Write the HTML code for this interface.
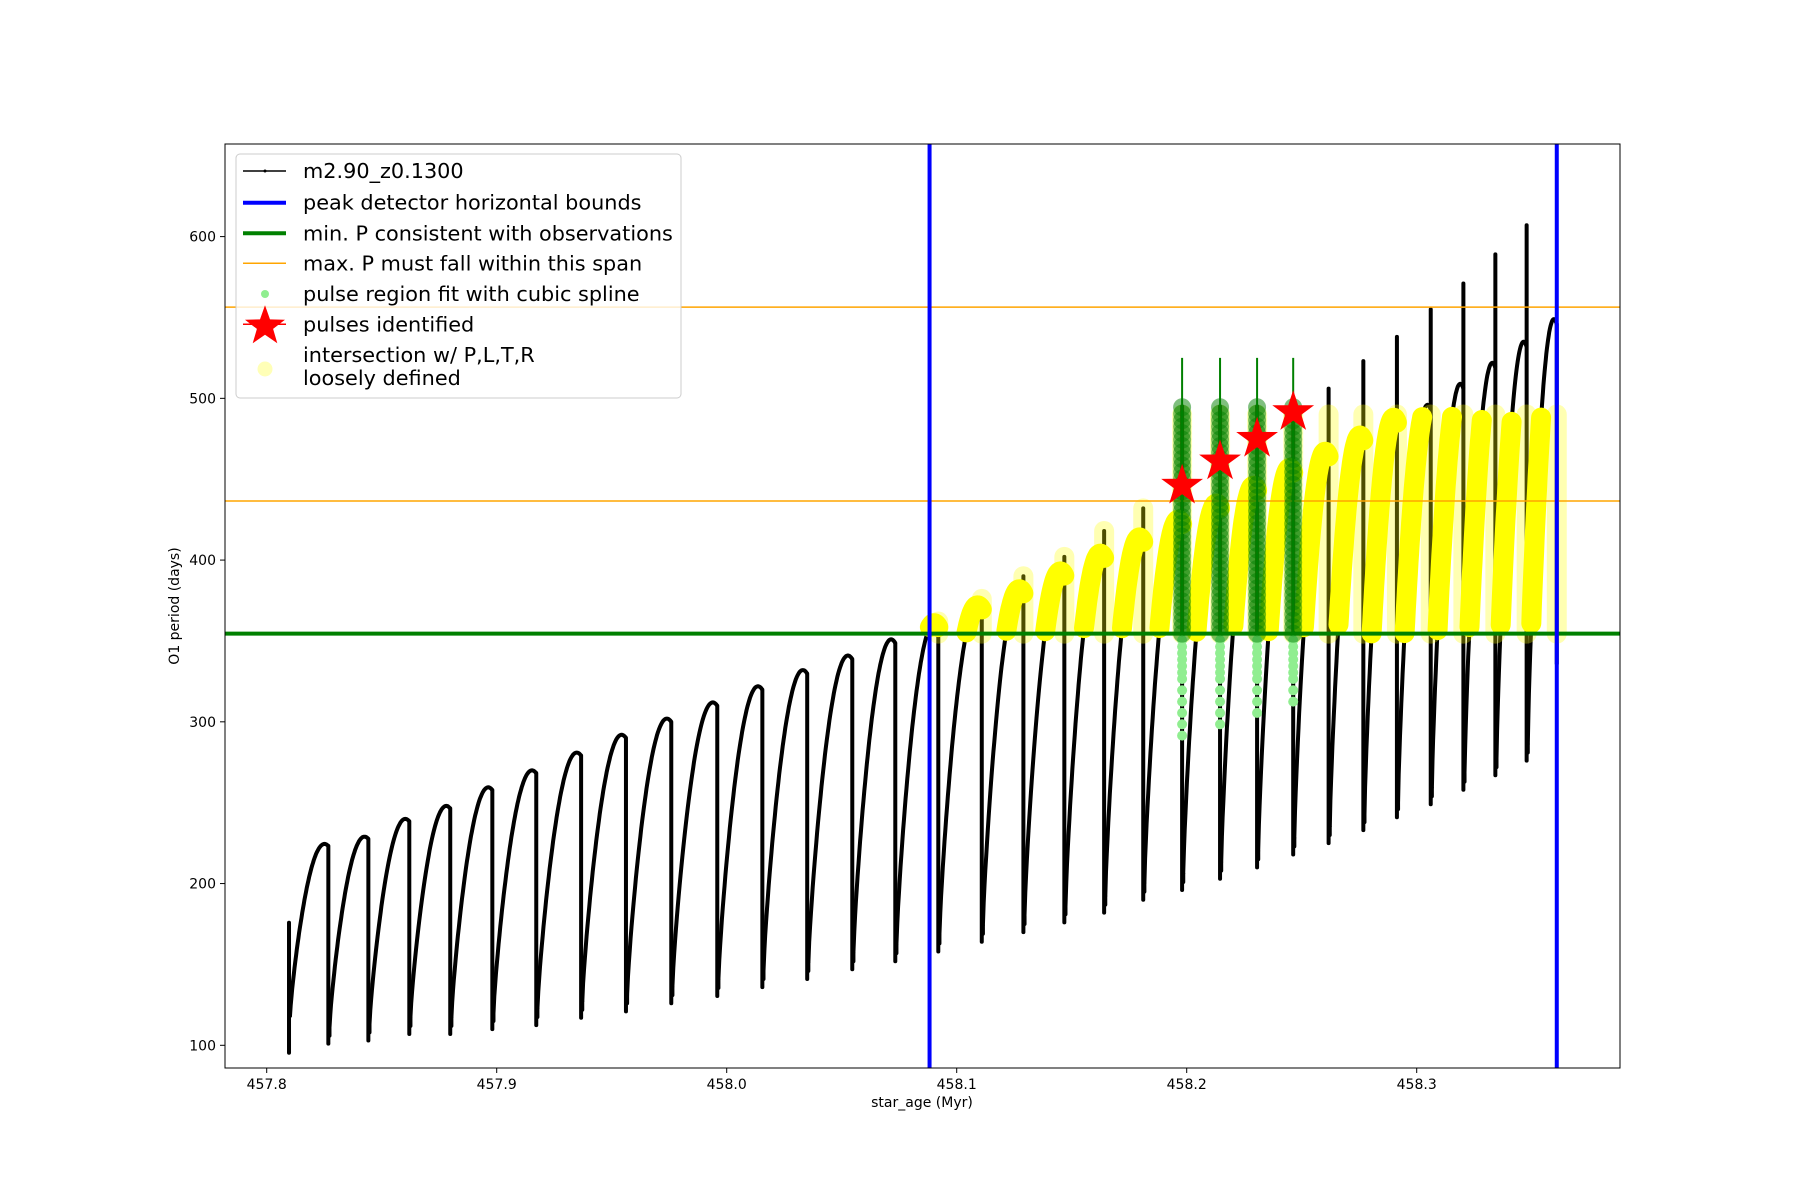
<!DOCTYPE html>
<html><head><meta charset="utf-8"><style>
html,body{margin:0;padding:0;background:#fff;}
svg{display:block;font-family:"DejaVu Sans","Liberation Sans",sans-serif;}
</style></head><body>
<svg id="chart" width="1800" height="1200" viewBox="0 0 1800 1200" xmlns="http://www.w3.org/2000/svg">
<rect x="0" y="0" width="1800" height="1200" fill="#fff"/>
<g id="plot"></g>
<rect x="225" y="144" width="1395" height="924" fill="none" stroke="#000" stroke-width="1"/>
<g id="ticks"></g>
<text x="922" y="1107" font-size="14" text-anchor="middle">star_age (Myr)</text>
<text x="0" y="0" font-size="14" text-anchor="middle" transform="translate(179,606) rotate(-90)">O1 period (days)</text>
<g id="legend"></g>
</svg>
<script>
// ---- data ----
const pulseAges = [457.8268,457.8442,457.8620,457.8798,457.8981,457.9172,457.9367,457.9562,457.9759,457.9959,458.0155,458.0350,458.0546,458.0733,458.0920,458.1109,458.1290,458.1468,458.1641,458.1811,458.1980,458.2145,458.2306,458.2463,458.2617,458.2768,458.2914,458.3061,458.3203,458.3342,458.3478];
const peakVals = [224.5,229,240,248,259.5,270,281,292,302,312,322,332,341,351,361,372,382,393,404,414,425,435,446,457,467,477,488,496,509,522,535];
const minVals = [101,103,107,107,110,112.5,117,121,126,130.5,136,141,147,152,158,164,170,176,182,190,196,203,210,218,225,233,241,249,258,267,276];
const spikeVals = [0,0,0,0,0,0,0,0,0,0,0,0,0,0,362,376,390,402,418,432,495,495,495,495,506,523,538,555,571,589,607];
const startAge = 457.8097, startMin = 95.4, startTop = 175.8;
const endAge = 458.3609, endPeak = 549;
const boundLeft = 458.0882, boundRight = 458.3609;
const minP = 354.5;
const maxSpan = [436.5, 556.4];
const looseCap = 490;
const greenAges = [458.1980,458.2145,458.2306,458.2463];
const lightGreenBottom = [288,297,300,310];
const starVals = [446,461,475,491.5];
const xTicks = [457.8,457.9,458.0,458.1,458.2,458.3];
const xTickLabels = ["457.8","457.9","458.0","458.1","458.2","458.3"];
const yTicks = [100,200,300,400,500,600];
const yTickLabels = ["100","200","300","400","500","600"];

// ---- scales ----
const X = a => 266.7 + (a - 457.8) * 2300;
const Y = v => 1045.3 - (v - 100) * 1.6174;
const NS = "http://www.w3.org/2000/svg";
const plot = document.getElementById('plot');
function mk(tag, attrs, parent){const e=document.createElementNS(NS,tag);for(const k in attrs)e.setAttribute(k,attrs[k]);(parent||plot).appendChild(e);return e;}

const arcs = []; const verts = [];
function arcPts(t0,v0,t1,pk){const pts=[];const n=50;for(let i=0;i<=n;i++){const u=i/n;const s=Math.sin(Math.PI/2*u/0.9);const f=Math.pow(Math.max(s,0),0.8);pts.push([t0+(t1-t0)*u, v0+(pk-v0)*f]);}return pts;}
verts.push([startAge,startMin,startTop]);
let t0=startAge+0.0004, v0=startMin+22;
for(let k=0;k<pulseAges.length;k++){
  const pts=arcPts(t0,v0,pulseAges[k],peakVals[k]);
  arcs.push(pts);
  const lastV=pts[pts.length-1][1];
  verts.push([pulseAges[k], minVals[k], Math.max(lastV, spikeVals[k])]);
  t0=pulseAges[k]+0.0005; v0=minVals[k]+10;
  verts.push([t0, minVals[k]+5, v0]);
}
const lastArc=arcPts(t0,v0,endAge,endPeak);
arcs.push(lastArc);
verts.push([endAge, minVals[minVals.length-1]+60, lastArc[lastArc.length-1][1]]);

const gB = mk('g',{});


arcs.forEach(pts=>{const p=mk('polyline',{points:pts.map(q=>X(q[0]).toFixed(1)+','+Y(q[1]).toFixed(1)).join(' '),fill:'none',stroke:'#000','stroke-width':4,'stroke-linejoin':'round'},gB);

});
verts.forEach(v=>{const l=mk('line',{x1:X(v[0]),x2:X(v[0]),y1:Y(v[1]),y2:Y(v[2]),stroke:'#000','stroke-width':4,'stroke-linecap':'round'},gB);

});

const gY = mk('g',{});


arcs.forEach(pts=>{
  const sel=pts.filter(q=>q[0]>=boundLeft && q[1]>=minP && q[1]<=looseCap);
  if(sel.length<1)return;
  const p=mk('polyline',{points:sel.map(q=>X(q[0]).toFixed(1)+','+Y(q[1]).toFixed(1)).join(' '),fill:'none',stroke:'#ffff00','stroke-width':20,'stroke-linecap':'round','stroke-linejoin':'round'},gY);
  
  
});
verts.forEach(v=>{
  if(v[0]<boundLeft)return;
  const lo=Math.max(v[1],minP), hi=Math.min(v[2],looseCap);
  if(hi<=lo)return;
  const l=mk('line',{x1:X(v[0]),x2:X(v[0]),y1:Y(lo),y2:Y(hi),stroke:'#ffff00','stroke-opacity':0.3,'stroke-width':20,'stroke-linecap':'round'},gY);
  
  
});

const g1=mk('line',{x1:225,x2:1620,y1:Y(minP),y2:Y(minP),stroke:'#008000','stroke-width':4});


maxSpan.forEach(v=>{const o=mk('line',{x1:225,x2:1620,y1:Y(v),y2:Y(v),stroke:'#ffa500','stroke-width':1.5});

});

greenAges.forEach((a,i)=>{
  const g=mk('g',{});
  
  
  for(let v=minP-4; v>=lightGreenBottom[i]; v-= (v>330?4:7)){
    const c=mk('circle',{cx:X(a),cy:Y(v),r:5,fill:'#90ee90'},g);
    
    
  }
  mk('line',{x1:X(a),x2:X(a),y1:Y(minP),y2:Y(525),stroke:'#008000','stroke-width':2},g);
  for(let v=minP; v<=495; v+=4){
    const c=mk('circle',{cx:X(a),cy:Y(v),r:9,fill:'#008000','fill-opacity':0.5},g);
    
    
  }
});

[boundLeft,boundRight].forEach(a=>{const b=mk('line',{x1:X(a),x2:X(a),y1:144,y2:1068,stroke:'#0000ff','stroke-width':4});

});

function starPath(cx,cy,R,r){let d='';for(let i=0;i<10;i++){const ang=-Math.PI/2+i*Math.PI/5;const rr=i%2?r:R;d+=(i?'L':'M')+(cx+rr*Math.cos(ang)).toFixed(1)+','+(cy+rr*Math.sin(ang)).toFixed(1);}return d+'Z';}
greenAges.forEach((a,i)=>{const s=mk('path',{d:starPath(X(a),Y(starVals[i]),22,8.5),fill:'#ff0000'});

});

const gt=document.getElementById('ticks');
xTicks.forEach((t,i)=>{mk('line',{x1:X(t),x2:X(t),y1:1068,y2:1073,stroke:'#000','stroke-width':1},gt);
const tx=mk('text',{x:X(t),y:1089,'font-size':14,'text-anchor':'middle'},gt);tx.textContent=xTickLabels[i];

});
yTicks.forEach((t,i)=>{mk('line',{x1:220,x2:225,y1:Y(t),y2:Y(t),stroke:'#000','stroke-width':1},gt);
const tx=mk('text',{x:216,y:Y(t)+5,'font-size':14,'text-anchor':'end'},gt);tx.textContent=yTickLabels[i];

});

const lg=document.getElementById('legend');
mk('rect',{x:236,y:154,width:445,height:244,rx:4,fill:'#fff','fill-opacity':0.8,stroke:'#cccccc','stroke-width':1},lg);
const rows=[
 ['m2.90_z0.1300',171,'black'],
 ['peak detector horizontal bounds',202.7,'blue'],
 ['min. P consistent with observations',233.3,'green'],
 ['max. P must fall within this span',263.3,'orange'],
 ['pulse region fit with cubic spline',294,'lg'],
 ['pulses identified',324.3,'star']];
rows.forEach(r=>{
  const g=mk('g',{},lg);
  
  
  const y=r[1];
  if(r[2]==='black'){mk('line',{x1:243,x2:286,y1:y,y2:y,stroke:'#000','stroke-width':1.5},g);mk('circle',{cx:265,cy:y,r:1.5,fill:'#000'},g);}
  if(r[2]==='blue')mk('line',{x1:243,x2:286,y1:y,y2:y,stroke:'#0000ff','stroke-width':4},g);
  if(r[2]==='green')mk('line',{x1:243,x2:286,y1:y,y2:y,stroke:'#008000','stroke-width':4},g);
  if(r[2]==='orange')mk('line',{x1:243,x2:286,y1:y,y2:y,stroke:'#ffa500','stroke-width':1.5},g);
  if(r[2]==='lg')mk('circle',{cx:265,cy:y,r:4,fill:'#90ee90'},g);
  if(r[2]==='star'){mk('line',{x1:243,x2:286,y1:y,y2:y,stroke:'#ff0000','stroke-width':1.5},g);mk('path',{d:starPath(265,y+2,21,8.5),fill:'#ff0000'},g);}
  const t=mk('text',{x:303,y:y+7,'font-size':20.8},g);t.textContent=r[0];
});
const gl=mk('g',{},lg);


mk('circle',{cx:265,cy:369,r:7.5,fill:'#ffff99','fill-opacity':0.7},gl);
const t1=mk('text',{x:303,y:362,'font-size':20.8},gl);t1.textContent='intersection w/ P,L,T,R';
const t2=mk('text',{x:303,y:385,'font-size':20.8},gl);t2.textContent='loosely defined';
</script>
</body></html>
